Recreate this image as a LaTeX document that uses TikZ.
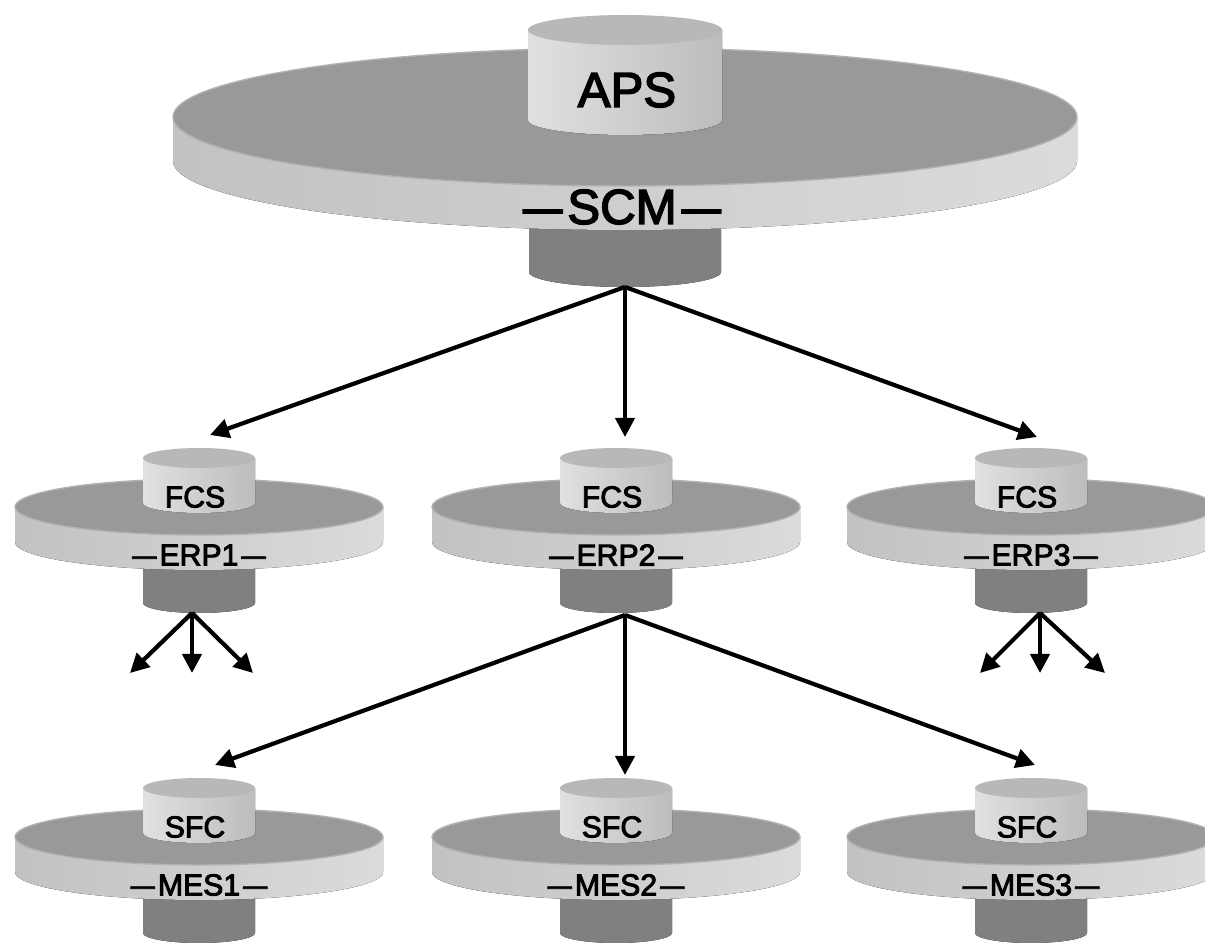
\documentclass[tikz,border=0pt]{standalone}
\usepackage{fontspec}
\setmainfont{Liberation Sans}
\newfontfamily\heavy{Liberation Sans}[FakeBold=3]
\usetikzlibrary{arrows.meta}
\definecolor{disktop}{gray}{0.60}
\definecolor{diskrim}{gray}{0.70}
\definecolor{sideL}{gray}{0.76}
\definecolor{sideM}{gray}{0.80}
\definecolor{sideR}{gray}{0.86}
\definecolor{litetop}{gray}{0.72}
\definecolor{liteL}{gray}{0.88}
\definecolor{liteR}{gray}{0.74}
\definecolor{darktop}{gray}{0.50}
\definecolor{darkL}{gray}{0.50}
\definecolor{darkM}{gray}{0.44}
\definecolor{darkR}{gray}{0.50}
\newcommand\dsh{\scalebox{0.8}[1]{—}}
\tikzset{
  diskside/.style={left color=sideL,middle color=sideM,right color=sideR},
  liteside/.style={left color=liteL,right color=liteR},
  darkside/.style={left color=darkL,middle color=darkM,right color=darkR},
  bigtext/.style={font=\heavy\fontsize{14}{14}\selectfont,inner sep=0pt},
  smalltext/.style={font=\heavy\fontsize{8.6}{8.6}\selectfont,inner sep=0pt},
  arr/.style={line width=1.2pt,-{Triangle[length=1.9mm,width=1.9mm]}},
}
% cx, ytop, ybot, rx, ry, side style, top colour (pixel units, y downward)
\newcommand\drum[7]{%
  \fill[#6] (#1-#4,#2) -- (#1-#4,#3) arc[start angle=180,end angle=360,x radius=#4*0.1mm,y radius=#5*0.1mm] -- (#1+#4,#2) -- cycle;
  \fill[#7] (#1,#2) ellipse[x radius=#4*0.1mm,y radius=#5*0.1mm];
}
\newcommand\plate[7]{%
  \fill[#6] (#1-#4,#2) -- (#1-#4,#3) arc[start angle=180,end angle=360,x radius=#4*0.1mm,y radius=#5*0.1mm] -- (#1+#4,#2) -- cycle;
  \fill[#7,draw=diskrim,line width=0.4pt] (#1,#2) ellipse[x radius=#4*0.1mm,y radius=#5*0.1mm];
}
% small unit: name, cx, y0 (disk top centre), top text, bottom text
\newcommand\unit[5]{%
  \drum{#2}{#3+50}{#3+96}{56}{10}{darkside}{darktop}
  \plate{#2}{#3}{#3+35}{184}{28}{diskside}{disktop}
  \drum{#2}{#3-49}{#3-4}{56}{10}{liteside}{litetop}
  \node[smalltext] (#1t) at (#2-4,#3-10) {#4};
  \node[smalltext] (#1b) at (#2,#3+48) {\dsh\hspace{0.1em}#5\hspace{0.1em}\dsh};
}
\begin{document}
\begin{tikzpicture}[x=0.1mm,y=-0.1mm]
\clip (0,0) rectangle (1205,944);
\fill[white] (0,0) rectangle (1205,944);
% top unit
\drum{625}{230}{272}{96}{15}{darkside}{darktop}
\plate{625}{117}{161}{452}{69}{diskside}{disktop}
\drum{625}{30}{120}{97}{15}{liteside}{litetop}
\node[bigtext] (aps) at (627,90) {APS};
\node[bigtext] (scm) at (622,207) {\dsh\hspace{0.1em}SCM\hspace{0.1em}\dsh};
% lower units
\unit{erpA}{199}{507}{FCS}{ERP1}
\unit{erpB}{616}{507}{FCS}{ERP2}
\unit{erpC}{1031}{507}{FCS}{ERP3}
\unit{mesA}{199}{837}{SFC}{MES1}
\unit{mesB}{616}{837}{SFC}{MES2}
\unit{mesC}{1031}{837}{SFC}{MES3}
% connector coordinates
\coordinate (scmO) at (625,287);
\coordinate (erpAI) at (210,435);
\coordinate (erpBI) at (625,437);
\coordinate (erpCI) at (1037,437);
\coordinate (erpAO) at (192,613);
\coordinate (erpBO) at (625,615);
\coordinate (erpCO) at (1040,613);
\coordinate (mesAI) at (215,765);
\coordinate (mesBI) at (625,775);
\coordinate (mesCI) at (1035,765);
\coordinate (a1) at (130,673);
\coordinate (a2) at (192,673);
\coordinate (a3) at (253,673);
\coordinate (c1) at (980,673);
\coordinate (c2) at (1040,673);
\coordinate (c3) at (1105,673);
\draw[arr] (scmO) -- (erpAI);
\draw[arr] (scmO) -- (erpBI);
\draw[arr] (scmO) -- (erpCI);
\draw[arr] (erpBO) -- (mesAI);
\draw[arr] (erpBO) -- (mesBI);
\draw[arr] (erpBO) -- (mesCI);
\draw[arr] (erpAO) -- (a1);
\draw[arr] (erpAO) -- (a2);
\draw[arr] (erpAO) -- (a3);
\draw[arr] (erpCO) -- (c1);
\draw[arr] (erpCO) -- (c2);
\draw[arr] (erpCO) -- (c3);
\end{tikzpicture}
\end{document}
